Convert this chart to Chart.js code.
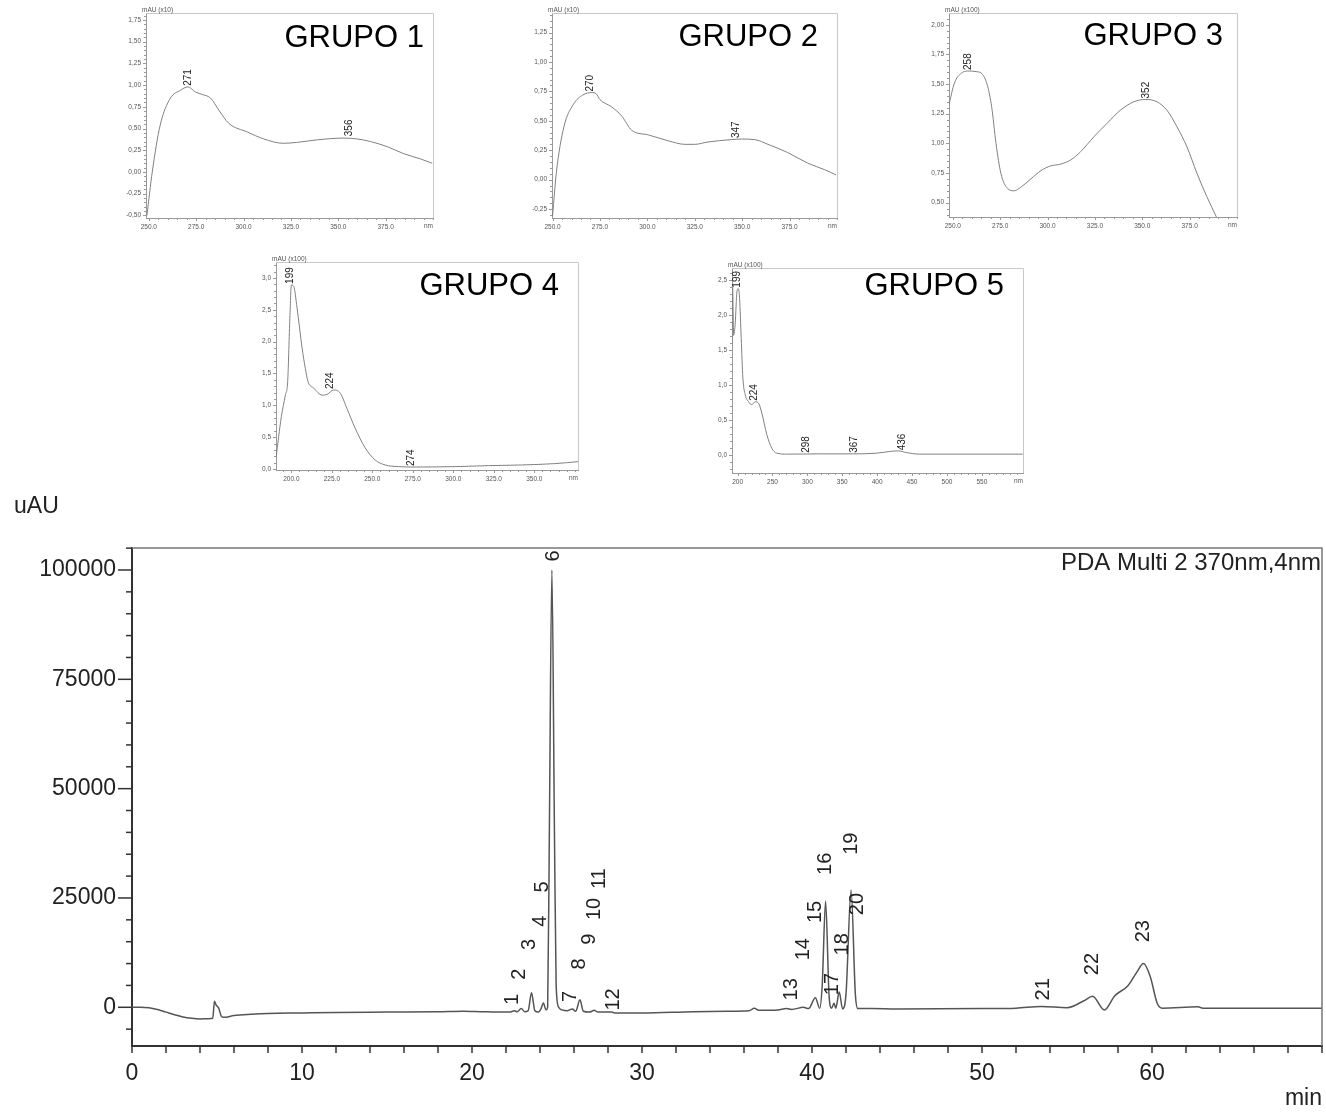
<!DOCTYPE html>
<html><head><meta charset="utf-8">
<script src="https://cdn.jsdelivr.net/npm/chart.js@4.4.0/dist/chart.umd.min.js"></script>
<style>
html,body{margin:0;padding:0;background:#fff;width:1326px;height:1112px;overflow:hidden;position:relative;font-family:"Liberation Sans",Arial,sans-serif}
canvas{position:absolute}
</style></head><body>
<canvas id="main" width="1326" height="1112" style="left:0;top:0;width:1326px;height:1112px"></canvas>
<script>
// ---------- Chromatogram (PDA Multi 2 370nm,4nm) ----------
const rtMin = [0,0.5,1.0,1.5,2.0,2.5,3.0,3.5,4.0,4.5,4.75,4.85,4.95,5.1,5.25,5.4,6,7,8,10,12,15,18,19.5,20.5,21.5,22.2,22.5,22.65,22.9,23.1,23.3,23.5,23.7,23.9,24.05,24.2,24.35,24.45,24.55,24.7,24.85,24.95,25.1,25.3,25.6,25.9,26.1,26.35,26.55,26.9,27.2,27.4,28.2,28.4,30,33,35,36.3,36.6,36.9,38,38.5,38.8,39.5,39.8,40.2,40.45,40.6,40.8,41.0,41.15,41.3,41.4,41.6,41.8,42.0,42.3,42.55,42.7,43.5,45,50,52,53.5,55,56.0,56.5,57.2,57.8,58.6,59.1,59.5,59.9,60.3,60.6,62.7,63,70];
const signalUAU = [0,0,-100,-500,-1100,-1700,-2200,-2500,-2650,-2600,-2500,1400,500,-200,-2000,-2300,-1900,-1600,-1400,-1300,-1200,-1100,-1000,-900,-1000,-1100,-1100,-800,-1000,-300,-1000,-800,3300,-800,-1100,-400,1000,-600,0,40000,100000,40000,5000,0,-600,-800,-400,-900,1700,-900,-1100,-700,-1100,-1100,-1300,-1300,-1000,-900,-800,-200,-700,-600,-300,-500,0,-300,2200,-200,5000,24300,3000,-200,900,-200,3500,-400,3000,26800,3000,-300,-300,-400,-300,-200,200,-100,1500,2500,-600,2600,5000,8000,10000,7000,1000,-200,100,-200,-200];
const peakNumbers = ['1','2','3','4','5','6','7','8','9','10','11','12','13','14','15','16','17','18','19','20','21','22','23'];
const peakLabelTime = [22.4,22.8,23.4,24.0,24.15,24.78,25.8,26.35,26.9,27.2,27.5,28.35,38.8,39.5,40.2,40.8,41.2,41.8,42.35,42.65,53.6,56.5,59.5];
const peakLabelUAU = [1800,7600,14400,19700,27500,103200,2500,9900,15600,22500,29400,1800,4100,13300,21800,32800,5300,14400,37400,23600,4100,9900,17400];
const chromXTicks = [0,10,20,30,40,50,60];
const chromYTicks = [0,25000,50000,75000,100000];

// ---------- UV spectra ----------
const g1Nm  = [249,251.8,256,261.4,266.7,270.6,274.6,278.5,282.6,287,292.2,302,310.7,321,328,339,353,360,367,376,384.6,393.4,399.6];
const g1Abs = [-0.5,0,0.54,0.85,0.94,0.98,0.92,0.89,0.85,0.71,0.56,0.46,0.38,0.33,0.34,0.37,0.39,0.38,0.35,0.29,0.21,0.15,0.10];
const g1PeakNm = [271,356], g1PeakAbs = [0.98,0.40];

const g2Nm  = [250,252,256,261,266,270.7,273,275,281,286.5,291.7,300.5,311,319.8,325,332,344.3,349.6,356.6,363.6,374,384.6,393.4,399.5];
const g2Abs = [-0.31,0.06,0.45,0.64,0.72,0.74,0.73,0.68,0.62,0.54,0.42,0.38,0.33,0.30,0.30,0.32,0.34,0.345,0.34,0.30,0.23,0.14,0.085,0.04];
const g2PeakNm = [270,347], g2PeakAbs = [0.74,0.345];

const g3Nm  = [247.9,250.9,254.4,257.9,262.3,265.8,268.4,270.5,272.8,275.4,278.9,282.4,285.9,291.2,296.5,301.7,307,312.2,317.5,324.5,331.5,338.5,345.5,351.7,357.8,363,368.3,373.6,378.8,384.1,389.4];
const g3Abs = [1.32,1.51,1.59,1.61,1.605,1.58,1.48,1.31,1.0,0.746,0.62,0.60,0.63,0.70,0.77,0.81,0.825,0.86,0.93,1.056,1.17,1.28,1.35,1.37,1.35,1.28,1.14,0.97,0.75,0.55,0.37];
const g3PeakNm = [258,352], g3PeakAbs = [1.61,1.37];

const g4Nm  = [190.5,193.8,196.3,197.7,199,200,201.4,203.5,206.6,208.6,210.3,213.8,219,222,226.1,230.2,234.3,239.4,245.6,251.8,257.9,266.1,276.4,301,321.6,342,362.7,377];
const g4Abs = [0.17,0.82,1.16,1.37,2.32,2.89,2.87,2.53,1.9,1.58,1.37,1.27,1.16,1.17,1.24,1.19,0.95,0.64,0.33,0.14,0.063,0.037,0.031,0.037,0.052,0.063,0.084,0.115];
const g4PeakNm = [199,224,274], g4PeakAbs = [2.89,1.24,0.03];

const g5Nm  = [191.9,192.9,194.3,196.7,199,201,202.9,205.2,207.6,211,215.7,220.5,225.2,230,234.7,241.9,249,256.2,270.4,318,365.6,399,418,430,441.8,460.8,608.6];
const g5Abs = [1.6,2.4,1.71,1.9,2.33,2.38,2.24,1.67,1.1,0.86,0.76,0.72,0.76,0.74,0.6,0.29,0.095,0.024,0.01,0.014,0.014,0.024,0.048,0.057,0.033,0.01,0.01];
const g5PeakNm = [199,224,298,367,436], g5PeakAbs = [2.38,0.76,0.014,0.014,0.05];

const FONT = '"Liberation Sans", Arial, sans-serif';

// ---------- Main chromatogram ----------
const mainDeco = {
  id: 'mainDeco',
  afterDraw(chart) {
    const {ctx, chartArea: a, scales: {x, y}} = chart;
    ctx.save();
    ctx.strokeStyle = '#777'; ctx.lineWidth = 1.5;
    ctx.beginPath(); ctx.moveTo(a.left, a.top); ctx.lineTo(a.right, a.top); ctx.lineTo(a.right, a.bottom); ctx.stroke();
    ctx.strokeStyle = '#333'; ctx.lineWidth = 1.5;
    for (let v = -5000; v <= 105000; v += 5000) {
      const py = y.getPixelForValue(v);
      if (py < a.top - 1 || py > a.bottom) continue;
      const len = (v % 25000 === 0) ? 14 : 6;
      ctx.beginPath(); ctx.moveTo(a.left - len, py); ctx.lineTo(a.left, py); ctx.stroke();
    }
    for (let t = 0; t <= 70; t += 2) {
      const px = x.getPixelForValue(t);
      ctx.beginPath(); ctx.moveTo(px, a.bottom); ctx.lineTo(px, a.bottom + 7); ctx.stroke();
    }
    ctx.fillStyle = '#222';
    ctx.font = '23px ' + FONT;
    ctx.textAlign = 'left'; ctx.textBaseline = 'middle';
    ctx.fillText('uAU', a.left - 118, a.top - 41);
    ctx.textAlign = 'right';
    ctx.fillText('min', a.right, a.bottom + 53);
    ctx.font = '24px ' + FONT;
    ctx.fillText('PDA Multi 2 370nm,4nm', a.right - 1, a.top + 15);
    // peak labels
    ctx.font = '20px ' + FONT;
    ctx.textAlign = 'center'; ctx.textBaseline = 'middle';
    for (let i = 0; i < peakNumbers.length; i++) {
      const px = x.getPixelForValue(peakLabelTime[i]);
      const py = y.getPixelForValue(peakLabelUAU[i]);
      ctx.save(); ctx.translate(px, py); ctx.rotate(-Math.PI / 2);
      ctx.fillText(peakNumbers[i], 0, 0); ctx.restore();
    }
    ctx.restore();
  }
};

new Chart(document.getElementById('main'), {
  type: 'scatter',
  data: { datasets: [{
    data: rtMin.map((t, i) => ({x: t, y: signalUAU[i]})),
    showLine: true, pointRadius: 0, borderColor: '#555', borderWidth: 1.5, cubicInterpolationMode: 'monotone'
  }]},
  options: {
    responsive: false, animation: false,
    layout: { padding: { top: 548, right: 4, left: 0, bottom: 0 } },
    plugins: { legend: { display: false }, tooltip: { enabled: false } },
    scales: {
      x: {
        type: 'linear', min: 0, max: 70,
        afterBuildTicks: s => { s.ticks = chromXTicks.map(v => ({value: v})); },
        afterFit: s => { s.height = 66; },
        grid: { display: false, drawTicks: false },
        border: { display: true, color: '#333', width: 2 },
        ticks: { padding: 14, color: '#222', font: { size: 23, family: FONT }, maxRotation: 0,
          callback: v => String(v) }
      },
      y: {
        type: 'linear', min: -8850, max: 105030,
        afterBuildTicks: s => { s.ticks = chromYTicks.map(v => ({value: v})); },
        afterFit: s => { s.width = 132; },
        grid: { display: false, drawTicks: false },
        border: { display: true, color: '#333', width: 2 },
        ticks: { padding: 16, color: '#222', font: { size: 23, family: FONT }, callback: v => String(v) }
      }
    }
  },
  plugins: [mainDeco]
});

// ---------- Spectra ----------
function range(a, b, s) { const r = []; for (let v = a; v <= b + 1e-9; v += s) r.push(+v.toFixed(6)); return r; }

function makeSpectrum(cfg) {
  const {box, xr, yr, xTicks, yTicks, xMinor, yMinor, xFmt, yFmt, mau, grupo, grupoRight, grupoBaseline, nm, abs, pNm, pAbs} = cfg;
  const padTop = 16, yW = 38, xH = 18, padR = 8;
  const cv = document.createElement('canvas');
  const w = box.r - box.l + yW + padR, h = box.b - box.t + padTop + xH;
  cv.width = w; cv.height = h;
  cv.style.left = (box.l - yW) + 'px'; cv.style.top = (box.t - padTop) + 'px';
  cv.style.width = w + 'px'; cv.style.height = h + 'px';
  document.body.appendChild(cv);
  const deco = {
    id: 'specDeco',
    afterDraw(chart) {
      const {ctx, chartArea: a, scales: {x, y}} = chart;
      ctx.save();
      ctx.strokeStyle = '#c8c8c8'; ctx.lineWidth = 1;
      ctx.beginPath(); ctx.moveTo(a.left, a.top + 0.5); ctx.lineTo(a.right + 0.5, a.top + 0.5); ctx.lineTo(a.right + 0.5, a.bottom); ctx.stroke();
      ctx.strokeStyle = '#999';
      for (let v = Math.ceil(xr[0] / xMinor) * xMinor; v <= xr[1] + 1e-9; v += xMinor) {
        const px = Math.round(x.getPixelForValue(v)) + 0.5;
        const major = xTicks.some(t => Math.abs(t - v) < 1e-6);
        ctx.beginPath(); ctx.moveTo(px, a.bottom); ctx.lineTo(px, a.bottom + (major ? 3 : 2)); ctx.stroke();
      }
      for (let v = Math.ceil(yr[0] / yMinor) * yMinor; v <= yr[1] + 1e-9; v += yMinor) {
        const py = Math.round(y.getPixelForValue(v)) + 0.5;
        const major = yTicks.some(t => Math.abs(t - v) < 1e-6);
        ctx.beginPath(); ctx.moveTo(a.left - (major ? 3 : 2), py); ctx.lineTo(a.left, py); ctx.stroke();
      }
      ctx.fillStyle = '#555';
      ctx.font = '6.5px ' + FONT;
      ctx.textAlign = 'left'; ctx.textBaseline = 'bottom';
      ctx.fillText(mau, a.left - 4, a.top);
      ctx.textAlign = 'right'; ctx.textBaseline = 'top';
      ctx.fillText('nm', a.right, a.bottom + 5);
      // peak labels
      ctx.fillStyle = '#222';
      ctx.font = '10px ' + FONT;
      ctx.textAlign = 'left'; ctx.textBaseline = 'middle';
      for (let i = 0; i < pNm.length; i++) {
        const px = x.getPixelForValue(pNm[i]), py = y.getPixelForValue(pAbs[i]);
        ctx.save(); ctx.translate(px, py - 1); ctx.rotate(-Math.PI / 2);
        ctx.fillText(String(pNm[i]), 0, 0); ctx.restore();
      }
      // group title
      ctx.fillStyle = '#000';
      ctx.font = '31px ' + FONT;
      ctx.textAlign = 'right'; ctx.textBaseline = 'alphabetic';
      ctx.fillText(grupo, a.right - grupoRight, a.top + grupoBaseline);
      ctx.restore();
    }
  };
  new Chart(cv, {
    type: 'scatter',
    data: { datasets: [{
      data: nm.map((v, i) => ({x: v, y: abs[i]})),
      showLine: true, pointRadius: 0, borderColor: '#808080', borderWidth: 1, cubicInterpolationMode: 'monotone'
    }]},
    options: {
      responsive: false, animation: false,
      layout: { padding: { top: padTop, right: padR, left: 0, bottom: 0 } },
      plugins: { legend: { display: false }, tooltip: { enabled: false } },
      scales: {
        x: {
          type: 'linear', min: xr[0], max: xr[1],
          afterBuildTicks: s => { s.ticks = xTicks.map(v => ({value: v})); },
          afterFit: s => { s.height = xH; },
          grid: { display: false, drawTicks: false },
          border: { display: true, color: '#999', width: 1 },
          ticks: { padding: 5, color: '#555', font: { size: 6.5, family: FONT }, maxRotation: 0, autoSkip: false, callback: xFmt }
        },
        y: {
          type: 'linear', min: yr[0], max: yr[1],
          afterBuildTicks: s => { s.ticks = yTicks.map(v => ({value: v})); },
          afterFit: s => { s.width = yW; },
          grid: { display: false, drawTicks: false },
          border: { display: true, color: '#999', width: 1 },
          ticks: { padding: 5, color: '#555', font: { size: 6.5, family: FONT }, autoSkip: false, callback: yFmt }
        }
      }
    },
    plugins: [deco]
  });
}

const fx1 = v => v.toFixed(1);
const fx0 = v => String(Math.round(v));
const fy2 = v => v.toFixed(2).replace('.', ',');
const fy1 = v => v.toFixed(1).replace('.', ',');

makeSpectrum({ box: {l: 146, r: 433, t: 13, b: 218}, xr: [248.5, 400], yr: [-0.53, 1.83],
  xTicks: range(250, 375, 25), yTicks: range(-0.5, 1.75, 0.25), xMinor: 5, yMinor: 0.05, xFmt: fx1, yFmt: fy2,
  mau: 'mAU (x10)', grupo: 'GRUPO 1', grupoRight: 9, grupoBaseline: 34, nm: g1Nm, abs: g1Abs, pNm: g1PeakNm, pAbs: g1PeakAbs });
makeSpectrum({ box: {l: 552, r: 837, t: 13, b: 218}, xr: [249.7, 400], yr: [-0.326, 1.416],
  xTicks: range(250, 375, 25), yTicks: range(-0.25, 1.25, 0.25), xMinor: 5, yMinor: 0.05, xFmt: fx1, yFmt: fy2,
  mau: 'mAU (x10)', grupo: 'GRUPO 2', grupoRight: 19, grupoBaseline: 33, nm: g2Nm, abs: g2Abs, pNm: g2PeakNm, pAbs: g2PeakAbs });
makeSpectrum({ box: {l: 949, r: 1237, t: 13, b: 217}, xr: [248, 400], yr: [0.379, 2.099],
  xTicks: range(250, 375, 25), yTicks: range(0.5, 2.0, 0.25), xMinor: 5, yMinor: 0.05, xFmt: fx1, yFmt: fy2,
  mau: 'mAU (x100)', grupo: 'GRUPO 3', grupoRight: 14, grupoBaseline: 32, nm: g3Nm, abs: g3Abs, pNm: g3PeakNm, pAbs: g3PeakAbs });
makeSpectrum({ box: {l: 276, r: 578, t: 262, b: 470}, xr: [190.5, 377], yr: [-0.016, 3.25],
  xTicks: range(200, 350, 25), yTicks: range(0, 3.0, 0.5), xMinor: 5, yMinor: 0.1, xFmt: fx1, yFmt: fy1,
  mau: 'mAU (x100)', grupo: 'GRUPO 4', grupoRight: 19, grupoBaseline: 33, nm: g4Nm, abs: g4Abs, pNm: g4PeakNm, pAbs: g4PeakAbs });
makeSpectrum({ box: {l: 732, r: 1023, t: 268, b: 473}, xr: [192, 609], yr: [-0.26, 2.676],
  xTicks: range(200, 550, 50), yTicks: range(0, 2.5, 0.5), xMinor: 10, yMinor: 0.1, xFmt: fx0, yFmt: fy1,
  mau: 'mAU (x100)', grupo: 'GRUPO 5', grupoRight: 19, grupoBaseline: 27, nm: g5Nm, abs: g5Abs, pNm: g5PeakNm, pAbs: g5PeakAbs });
</script>
</body></html>
